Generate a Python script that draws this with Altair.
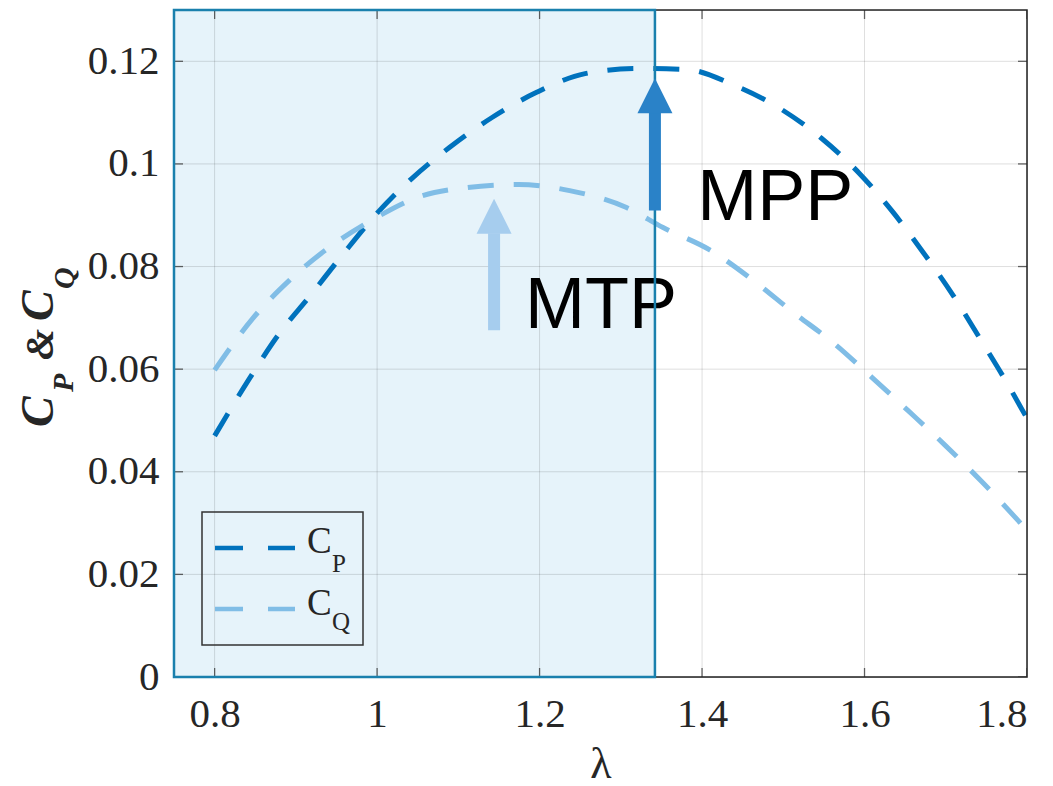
import altair as alt
import pandas as pd

# ---------------- data ----------------
lam_cp = [0.8, 0.843, 0.878, 0.918, 0.957, 1.0, 1.043, 1.089, 1.141, 1.197, 1.256,
          1.32, 1.381, 1.44, 1.496, 1.547, 1.594, 1.635, 1.672, 1.709, 1.742, 1.775, 1.8]
cp_vals = [0.047, 0.0582, 0.0666, 0.0744, 0.0822, 0.0904, 0.0972, 0.1032, 0.109, 0.114, 0.1176,
           0.1186, 0.1184, 0.1153, 0.1108, 0.105, 0.0981, 0.0906, 0.0828, 0.0744, 0.066, 0.0574, 0.0504]

lam_cq = [0.8, 0.847, 0.892, 0.939, 0.993, 1.05, 1.111, 1.174, 1.237, 1.307, 1.352,
          1.41, 1.463, 1.512, 1.561, 1.609, 1.653, 1.699, 1.746, 1.8]
cq_vals = [0.0598, 0.0699, 0.0773, 0.0835, 0.089, 0.0935, 0.0954, 0.096, 0.0948, 0.0915, 0.0876,
           0.0832, 0.0773, 0.0711, 0.0652, 0.0584, 0.052, 0.0452, 0.0378, 0.0286]

x_ticks = [0.8, 1.0, 1.2, 1.4, 1.6, 1.8]
y_ticks = [0, 0.02, 0.04, 0.06, 0.08, 0.1, 0.12]
x_domain = [0.75, 1.8]
y_domain = [0, 0.13]

shade_range = [0.75, 1.342]          # shaded operating region

arrow_names = ["MPP", "MTP"]
arrow_x = [1.342, 1.144]
arrow_y0 = [0.0909, 0.0676]
arrow_y1 = [0.1100, 0.0865]
arrow_head = [0.1133, 0.0898]
arrow_colors = ["#2a82c8", "#a6cdee"]
label_x = [1.394, 1.182]
label_y = [0.089, 0.068]

CP_COLOR = "#0072bd"
CQ_COLOR = "#80bde6"
INK = "#262626"
SERIF = "Liberation Serif"

W, H = 853, 667

# ---------------- tables ----------------
curves = pd.concat([
    pd.DataFrame({"lam": lam_cp, "val": cp_vals, "series": "CP"}),
    pd.DataFrame({"lam": lam_cq, "val": cq_vals, "series": "CQ"}),
])
xt = pd.DataFrame({"lam": x_ticks})
yt = pd.DataFrame({"val": y_ticks})
frame = pd.DataFrame({"x0": [x_domain[0]], "x1": [x_domain[1]], "y0": [y_domain[0]], "y1": [y_domain[1]]})
shade = pd.DataFrame({"x0": [shade_range[0]], "x1": [shade_range[1]], "y0": [y_domain[0]], "y1": [y_domain[1]]})
arrows = pd.DataFrame({"name": arrow_names, "x": arrow_x, "y0": arrow_y0, "y1": arrow_y1,
                       "head": arrow_head, "color": arrow_colors, "lx": label_x, "ly": label_y})

xs = alt.Scale(domain=x_domain, nice=False, zero=False)
ys = alt.Scale(domain=y_domain, nice=False, zero=False)

AX = alt.Axis(values=x_ticks, format="~g", grid=False, ticks=False, domain=False,
              labelFont=SERIF, labelFontSize=41, labelColor=INK, labelPadding=17,
              title="λ", titleFont=SERIF, titleFontSize=44, titleFontWeight="normal",
              titleColor=INK, titlePadding=8)
AY = alt.Axis(values=y_ticks, format="~g", grid=False, ticks=False, domain=False,
              labelFont=SERIF, labelFontSize=41, labelColor=INK, labelPadding=15,
              title=None)


def X(f):
    return alt.X(f, scale=xs, axis=AX, title="λ")


def Y(f):
    return alt.Y(f, scale=ys, axis=AY)


# ---------------- layers ----------------
shade_fill = alt.Chart(shade).mark_rect(color="#e6f3fa").encode(
    x=X("x0:Q"), x2="x1:Q", y=Y("y0:Q"), y2="y1:Q")

grid_x = alt.Chart(xt).mark_rule(color="#000000", opacity=0.13, strokeWidth=1).encode(
    x=X("lam:Q"), y=alt.value(0), y2=alt.value(H))
grid_y = alt.Chart(yt).mark_rule(color="#000000", opacity=0.13, strokeWidth=1).encode(
    y=Y("val:Q"), x=alt.value(0), x2=alt.value(W))

lines = alt.Chart(curves).mark_line(strokeWidth=5, strokeDash=[26, 20], interpolate="monotone").encode(
    x=X("lam:Q"),
    y=Y("val:Q"),
    color=alt.Color("series:N", scale=alt.Scale(domain=["CP", "CQ"], range=[CP_COLOR, CQ_COLOR]), legend=None),
    detail="series:N",
)

tick_top = alt.Chart(xt).mark_tick(orient="vertical", size=18, thickness=1.3, color=INK, clip=True).encode(
    x=X("lam:Q"), y=alt.value(0))
tick_bot = alt.Chart(xt).mark_tick(orient="vertical", size=18, thickness=1.3, color=INK, clip=True).encode(
    x=X("lam:Q"), y=alt.value(H))
tick_left = alt.Chart(yt).mark_tick(orient="horizontal", size=18, thickness=1.3, color=INK, clip=True).encode(
    y=Y("val:Q"), x=alt.value(0))
tick_right = alt.Chart(yt).mark_tick(orient="horizontal", size=18, thickness=1.3, color=INK, clip=True).encode(
    y=Y("val:Q"), x=alt.value(W))

frame_rect = alt.Chart(frame).mark_rect(fill="transparent", stroke=INK, strokeWidth=1.5).encode(
    x=X("x0:Q"), x2="x1:Q", y=Y("y0:Q"), y2="y1:Q")

labels = alt.Chart(arrows).mark_text(font="Liberation Sans", fontSize=72, color="#000000",
                                     align="left", baseline="alphabetic").encode(
    x=X("lx:Q"), y=Y("ly:Q"), text="name:N")

shade_border = alt.Chart(shade).mark_rect(fill="transparent", stroke="#1a80ad", strokeWidth=2.5).encode(
    x=X("x0:Q"), x2="x1:Q", y=Y("y0:Q"), y2="y1:Q")

shafts = alt.Chart(arrows).mark_rule(strokeWidth=12).encode(
    x=X("x:Q"), y=Y("y0:Q"), y2="y1:Q",
    color=alt.Color("color:N", scale=None))
heads = alt.Chart(arrows).mark_point(shape="M-1,1L1,1L0,-1Z", size=1225, filled=True,
                                     opacity=1, strokeWidth=0).encode(
    x=X("x:Q"), y=Y("head:Q"),
    color=alt.Color("color:N", scale=None))


def txt(s, x, y, size, weight="normal", style="normal", angle=0):
    return alt.Chart(pd.DataFrame({"t": [s]})).mark_text(
        font=SERIF, fontSize=size, fontWeight=weight, fontStyle=style, angle=angle,
        align="left", baseline="alphabetic", color=INK).encode(
        x=alt.value(x), y=alt.value(y), text="t:N")


# y-axis title  C_P & C_Q  (rotated, bold italic with subscripts)
ytitle = [
    txt("C", -121, 417, 46, "bold", "italic", 270),
    txt("P", -101, 382, 30, "bold", "italic", 270),
    txt("&", -121, 350, 40, "bold", "italic", 270),
    txt("C", -121, 311, 46, "bold", "italic", 270),
    txt("Q", -100, 279, 30, "bold", "italic", 270),
]

# legend
legend_box = alt.Chart(pd.DataFrame({"a": [0]})).mark_rect(
    fill="transparent", stroke="#333333", strokeWidth=1.5).encode(
    x=alt.value(28), x2=alt.value(189), y=alt.value(502), y2=alt.value(635))
leg_cp = alt.Chart(pd.DataFrame({"a": [0]})).mark_rule(
    color=CP_COLOR, strokeWidth=4.5, strokeDash=[28, 25]).encode(
    x=alt.value(41), x2=alt.value(121), y=alt.value(538))
leg_cq = alt.Chart(pd.DataFrame({"a": [0]})).mark_rule(
    color=CQ_COLOR, strokeWidth=4.5, strokeDash=[28, 25]).encode(
    x=alt.value(41), x2=alt.value(121), y=alt.value(599))
leg_text = [
    txt("C", 133, 543, 37),
    txt("P", 158, 562, 25),
    txt("C", 133, 605, 37),
    txt("Q", 158, 620, 25),
]

chart = alt.layer(
    shade_fill, grid_x, grid_y, lines, tick_top, tick_bot, tick_left, tick_right,
    frame_rect, labels, shade_border, shafts, heads,
    legend_box, leg_cp, leg_cq, *leg_text, *ytitle,
).properties(
    width=W, height=H,
    autosize=alt.AutoSizeParams(type="none"),
    padding={"left": 174, "top": 10, "right": 26, "bottom": 109},
).configure_view(stroke=None).configure(background="white")

chart.save("out.html", embed_options={"renderer": "svg", "actions": False})
